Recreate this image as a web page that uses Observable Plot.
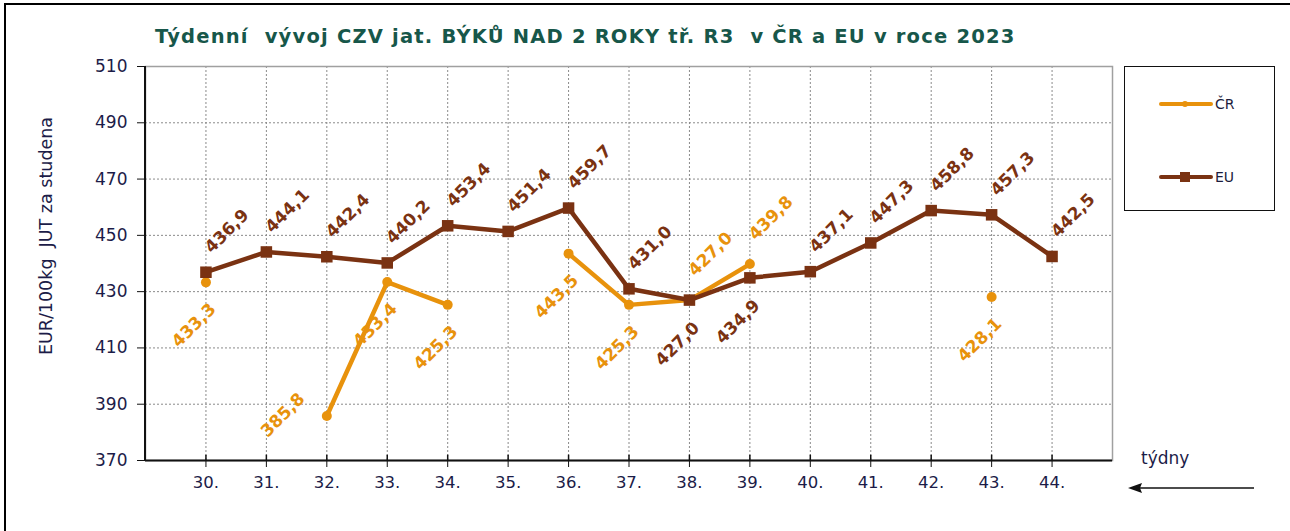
<!DOCTYPE html>
<html>
<head>
<meta charset="utf-8">
<script src="https://cdn.jsdelivr.net/npm/d3@7"></script>
<script src="https://cdn.jsdelivr.net/npm/@observablehq/plot@0.6"></script>
<style>
  html, body { margin: 0; padding: 0; background: #fff; }
  #wrap { position: relative; width: 1290px; height: 531px; overflow: hidden; font-family: "DejaVu Sans", Verdana, sans-serif; }
  #frameTop { position: absolute; left: 4px; top: 3px; width: 1286px; height: 2px; background: #000; }
  #frameLeft { position: absolute; left: 4px; top: 3px; width: 2px; height: 528px; background: #000; }
  #title { position: absolute; left: 155px; top: 25px; font-weight: bold; font-size: 19.5px; letter-spacing: 1.2px; color: #17574a; white-space: pre; }
  #ylabel { position: absolute; left: 46px; top: 236px; transform: translate(-50%, -50%) rotate(-90deg); font-size: 17.5px; color: #1c1c48; white-space: pre; }
  #legend { position: absolute; left: 1124px; top: 66px; width: 151px; height: 145px; border: 1.5px solid #111; box-sizing: border-box; }
  .leg { position: absolute; left: 34px; height: 20px; display: flex; align-items: center; font-size: 14px; color: #1c1c3c; }
  .leg svg { display: block; margin-right: 2px; }
  #tydny { position: absolute; left: 1141px; top: 448px; font-size: 17px; color: #1c1c48; }
  #arrow { position: absolute; left: 1126px; top: 480px; }
  #chart { position: absolute; left: 0; top: 0; }
</style>
</head>
<body>
<div id="wrap">
  <div id="chart"></div>
  <div id="frameTop"></div>
  <div id="frameLeft"></div>
  <div id="title">Týdenní  vývoj CZV jat. BÝKŮ NAD 2 ROKY tř. R3  v ČR a EU v roce 2023</div>
  <div id="ylabel">EUR/100kg  JUT za studena</div>
  <div id="legend"></div>
  <div id="tydny">týdny</div>
  <svg id="arrow" width="132" height="16"><line x1="10" y1="8" x2="128" y2="8" stroke="#111" stroke-width="1.6"/><path d="M2,8 L16,3 L14,8 L16,13 Z" fill="#111"/></svg>
</div>
<script>
const weeks = [30, 31, 32, 33, 34, 35, 36, 37, 38, 39, 40, 41, 42, 43, 44];
const crValues = [433.3, null, 385.8, 433.4, 425.3, null, 443.5, 425.3, 427.0, 439.8, null, null, null, 428.1, null];
const euValues = [436.9, 444.1, 442.4, 440.2, 453.4, 451.4, 459.7, 431.0, 427.0, 434.9, 437.1, 447.3, 458.8, 457.3, 442.5];
const yTicks = [370, 390, 410, 430, 450, 470, 490, 510];
const seriesNames = ["ČR", "EU"];

const CR_COLOR = "#e8920c";
const EU_COLOR = "#7a3212";
const TEXT = "#1c1c48";

const rows = weeks.map((w, i) => ({week: w, cr: crValues[i], eu: euValues[i]}));
const fmt = v => d3.format(".1f")(v).replace(".", ",");

const euAbove = rows.filter(d => d.cr == null || d.eu > d.cr);
const euBelow = rows.filter(d => !(d.cr == null || d.eu > d.cr));
const crRows = rows.filter(d => d.cr != null);
const crAbove = crRows.filter(d => d.cr >= d.eu);
const crLeft = crRows.filter(d => d.cr < d.eu && d.cr < 400);
const crBelow = crRows.filter(d => d.cr < d.eu && d.cr >= 400);

const labelStyle = {fontSize: 17, fontWeight: "bold", rotate: -45, textAnchor: "middle", lineAnchor: "middle", fontFamily: "DejaVu Sans, Verdana, sans-serif"};

const plot = Plot.plot({
  width: 1290,
  height: 531,
  marginLeft: 145,
  marginRight: 178,
  marginTop: 66,
  marginBottom: 71,
  style: {fontFamily: "DejaVu Sans, Verdana, sans-serif", background: "transparent", overflow: "visible"},
  x: {type: "point", domain: weeks, padding: 1, round: false, label: null},
  y: {domain: [370, 510], label: null},
  marks: [
    Plot.gridX(weeks, {stroke: "#8a8a8a", strokeOpacity: 1, strokeDasharray: "2,2"}),
    Plot.gridY(yTicks, {stroke: "#8a8a8a", strokeOpacity: 1, strokeDasharray: "2,2"}),
    Plot.frame({stroke: "#a0a0a0", strokeWidth: 1.5}),
    Plot.axisY(yTicks, {tickSize: 8, tickPadding: 10, fontSize: 17, color: TEXT, stroke: "#111", label: null}),
    Plot.axisX(weeks, {tickSize: 7, tickPadding: 9, fontSize: 16.5, color: TEXT, stroke: "#111", tickFormat: d => d + ".", label: null}),
    Plot.ruleX(weeks, {x: d => d, y1: 370, y2: 371.9, stroke: "#111", strokeWidth: 1.5}),
    Plot.ruleY([370], {stroke: "#111", strokeWidth: 2}),
    Plot.line(rows, {x: "week", y: "cr", stroke: CR_COLOR, strokeWidth: 4.5}),
    Plot.dot(crRows, {x: "week", y: "cr", r: 5, fill: CR_COLOR}),
    Plot.line(rows, {x: "week", y: "eu", stroke: EU_COLOR, strokeWidth: 4.5}),
    Plot.dot(rows, {x: "week", y: "eu", symbol: "square", r: 6.5, fill: EU_COLOR}),
    Plot.text(euAbove, {x: "week", y: "eu", text: d => fmt(d.eu), fill: EU_COLOR, dx: 21, dy: -41, ...labelStyle}),
    Plot.text(euBelow, {x: "week", y: "eu", text: d => fmt(d.eu), fill: EU_COLOR, dx: -12, dy: 44, ...labelStyle}),
    Plot.text(crAbove, {x: "week", y: "cr", text: d => fmt(d.cr), fill: CR_COLOR, dx: 21, dy: -46, ...labelStyle}),
    Plot.text(crBelow, {x: "week", y: "cr", text: d => fmt(d.cr), fill: CR_COLOR, dx: -12, dy: 43, ...labelStyle}),
    Plot.text(crLeft, {x: "week", y: "cr", text: d => fmt(d.cr), fill: CR_COLOR, dx: -44, dy: -1, ...labelStyle})
  ]
});

// left axis line
const sx = plot.scale("x"), sy = plot.scale("y");
d3.select(plot).append("line")
  .attr("x1", sx.range[0]).attr("x2", sx.range[0])
  .attr("y1", sy.range[0]).attr("y2", sy.range[1])
  .attr("stroke", "#111").attr("stroke-width", 2);

document.getElementById("chart").appendChild(plot);

// legend
const legend = document.getElementById("legend");
seriesNames.forEach((name, i) => {
  const color = i === 0 ? CR_COLOR : EU_COLOR;
  const item = document.createElement("div");
  item.className = "leg";
  item.style.top = (i === 0 ? 27 : 100) + "px";
  const marker = i === 0
    ? `<circle cx="26" cy="10" r="3" fill="${color}"/>`
    : `<rect x="21" y="5" width="10" height="10" fill="${color}"/>`;
  item.innerHTML = `<svg width="54" height="20"><line x1="2" y1="10" x2="52" y2="10" stroke="${color}" stroke-width="4" stroke-linecap="round"/>${marker}</svg><span>${name}</span>`;
  legend.appendChild(item);
});
</script>
</body>
</html>
